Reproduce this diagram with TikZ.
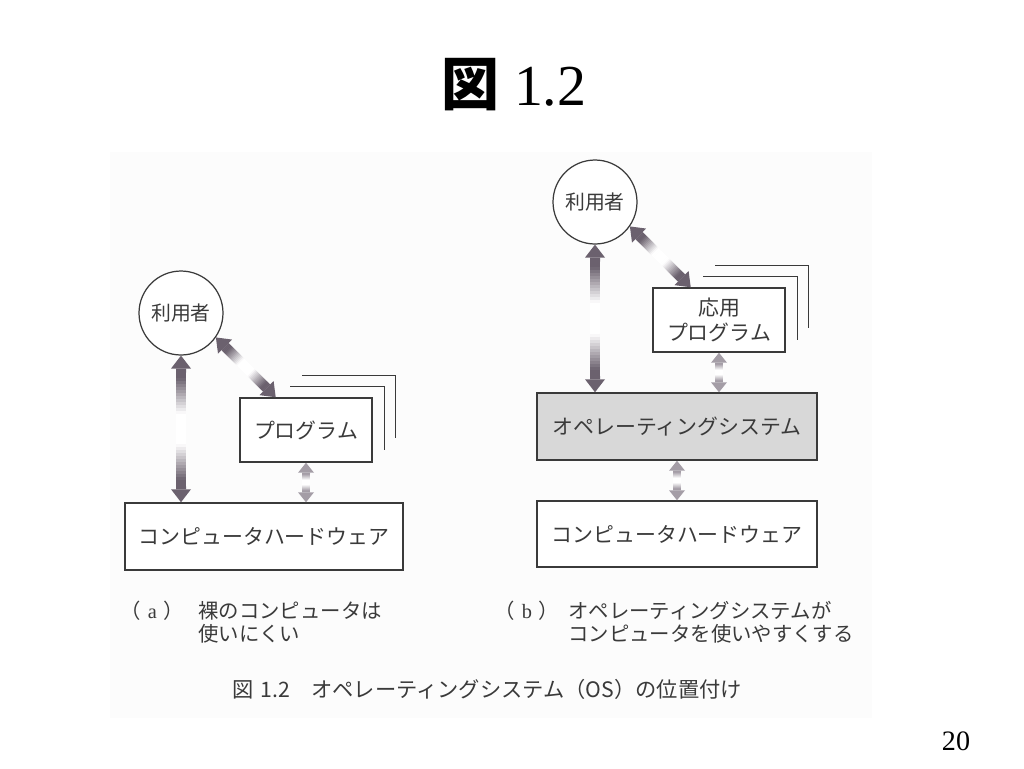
\documentclass[tikz,border=0pt]{standalone}
\usepackage{fontspec}
\setmainfont{Liberation Serif}
\newfontfamily\cjk{Noto Sans CJK JP}
\usetikzlibrary{calc}
\definecolor{arrowdark}{HTML}{6B616E}
\definecolor{arrowlight}{HTML}{A49DA6}
\definecolor{inkc}{HTML}{3A3A3A}
\definecolor{osfill}{HTML}{D8D8D8}
\definecolor{scanbg}{HTML}{FCFCFC}

% #1 start, #2 end, #3 colour, #4 shaft width, #5 head length, #6 head half width
\newcommand{\fadearrow}[6]{%
  \coordinate (fa-s) at ($(#1)!#5!(#2)$);
  \coordinate (fa-e) at ($(#2)!#5!(#1)$);
  \foreach \fai in {0,...,39}{%
    \pgfmathsetmacro{\faTa}{\fai/40}%
    \pgfmathsetmacro{\faTb}{min(1,(\fai+1.3)/40)}%
    \pgfmathsetmacro{\faD}{abs((\fai+0.5)/40-0.5)*2}%
    \pgfmathsetmacro{\faM}{max(0,min(100,(\faD-0.25)/0.6*100))}%
    \draw[line width=#4, color=#3!\faM!white] ($(fa-s)!\faTa!(fa-e)$) -- ($(fa-s)!\faTb!(fa-e)$);
  }
  \fill[#3] (#1) -- ($(fa-s)!#6!90:(#2)$) -- ($(fa-s)!#6!-90:(#2)$) -- cycle;
  \fill[#3] (#2) -- ($(fa-e)!#6!90:(#1)$) -- ($(fa-e)!#6!-90:(#1)$) -- cycle;
}

\begin{document}
\begin{tikzpicture}[x=0.02cm,y=0.02cm,
  inkline/.style={draw=inkc, line width=0.85pt},
  boxnode/.style={inkline, fill=white, text=inkc, font=\cjk\fontsize{11.9pt}{14.5pt}\selectfont, inner sep=0pt},
  usernode/.style={circle, draw=inkc, line width=0.7pt, fill=white, minimum size=1.68cm, inner sep=0pt, text=inkc, font=\cjk\fontsize{11.3pt}{14pt}\selectfont},
  captext/.style={anchor=west, text=inkc, inner sep=0pt, font=\cjk\fontsize{11.6pt}{14pt}\selectfont},
  layerline/.style={draw=inkc, line width=0.85pt},
]
\fill[white] (0,0) rectangle (1024,-768);
\useasboundingbox (0,0) rectangle (1024,-768);
\fill[scanbg] (110,-152) rectangle (872,-718);

\node[anchor=base, inner sep=0pt, font=\fontsize{33pt}{36pt}\selectfont] (title) at (514,-105) {{\cjk\bfseries 図} 1.2};
\node[anchor=base, inner sep=0pt, font=\fontsize{16pt}{18pt}\selectfont] (pnum) at (956,-750) {20};

% ---- (a)
\node[usernode] (u1) at (181,-313) {利用者};
\node[boxnode, minimum width=2.64cm, minimum height=1.28cm] (p1) at (306,-430) {プログラム};
\node[boxnode, minimum width=5.56cm, minimum height=1.34cm] (hw1) at (264,-536.5) {コンピュータハードウェア};
\draw[layerline] ($(p1.north west)+(51,11)$) -| ($(p1.south east)+(12,13)$);
\draw[layerline] ($(p1.north west)+(63,22)$) -| ($(p1.south east)+(23,25)$);

\coordinate (a1s) at (u1.south);
\coordinate (a1e) at (u1.south |- hw1.north);
\fadearrow{a1s}{a1e}{arrowdark}{0.2cm}{0.26cm}{0.2cm}
\coordinate (a2s) at (u1.-35);
\path let \p1=(u1.-35), \p2=(p1.north) in coordinate (a2e) at (\x1+\y1-\y2,\y2);
\fadearrow{a2s}{a2e}{arrowdark}{0.2cm}{0.26cm}{0.2cm}
\coordinate (a3s) at (p1.south);
\coordinate (a3e) at (p1.south |- hw1.north);
\fadearrow{a3s}{a3e}{arrowlight}{0.16cm}{0.2cm}{0.16cm}

% ---- (b)
\node[usernode] (u2) at (595,-202) {利用者};
\node[boxnode, minimum width=2.64cm, minimum height=1.28cm, align=center] (app) at (719,-320) {応用\\プログラム};
\node[boxnode, fill=osfill, minimum width=5.6cm, minimum height=1.34cm] (os) at (677,-426.5) {オペレーティングシステム};
\node[boxnode, minimum width=5.6cm, minimum height=1.32cm] (hw2) at (677,-534) {コンピュータハードウェア};
\draw[layerline] ($(app.north west)+(51,11)$) -| ($(app.south east)+(12,13)$);
\draw[layerline] ($(app.north west)+(63,22)$) -| ($(app.south east)+(23,25)$);

\coordinate (b1s) at (u2.south);
\coordinate (b1e) at (u2.south |- os.north);
\fadearrow{b1s}{b1e}{arrowdark}{0.2cm}{0.26cm}{0.2cm}
\coordinate (b2s) at (u2.-35);
\path let \p1=(u2.-35), \p2=(app.north) in coordinate (b2e) at (\x1+\y1-\y2,\y2);
\fadearrow{b2s}{b2e}{arrowdark}{0.2cm}{0.26cm}{0.2cm}
\coordinate (b3s) at (app.south);
\coordinate (b3e) at (app.south |- os.north);
\fadearrow{b3s}{b3e}{arrowlight}{0.16cm}{0.2cm}{0.16cm}
\coordinate (b4s) at (os.south);
\coordinate (b4e) at (hw2.north);
\fadearrow{b4s}{b4e}{arrowlight}{0.16cm}{0.2cm}{0.16cm}

% ---- captions
\node[captext] (ca0) at (120,-611) {（\hspace{4pt}{\rmfamily a}\hspace{4pt}）};
\node[captext] (ca1) at (198,-611) {裸のコンピュータは};
\node[captext] (ca2) at (198,-634) {使いにくい};
\node[captext] (cb0) at (494,-611) {（\hspace{4pt}{\rmfamily b}\hspace{4pt}）};
\node[captext] (cb1) at (568,-611) {オペレーティングシステムが};
\node[captext] (cb2) at (568,-634) {コンピュータを使いやすくする};
\node[captext, font=\cjk\fontsize{12.1pt}{14pt}\selectfont] (cap) at (232,-689) {図\hspace{4pt}1.2　オペレーティングシステム（OS）の位置付け};
\end{tikzpicture}
\end{document}
